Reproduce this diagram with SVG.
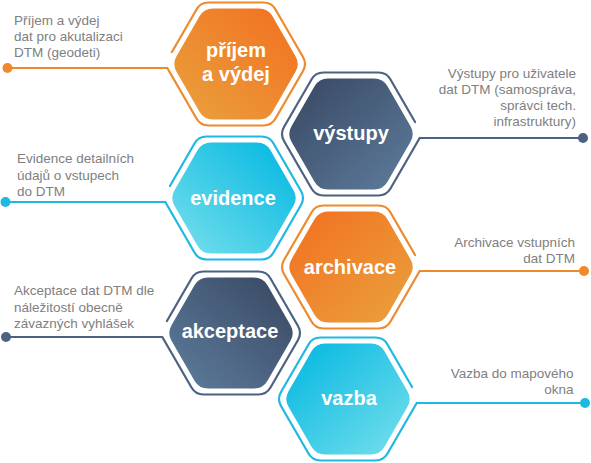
<svg xmlns="http://www.w3.org/2000/svg" xmlns:xlink="http://www.w3.org/1999/xlink" width="591" height="463" viewBox="0 0 591 463">
<style>
.desc{font-family:"Liberation Sans",Arial,sans-serif;font-size:13.5px;fill:#808080}
.r{text-anchor:end}
.lbl{font-family:"Liberation Sans",Arial,sans-serif;font-size:20px;font-weight:bold;fill:#ffffff;text-anchor:middle}
.out{fill:none;stroke-width:2.2;stroke-linejoin:round;stroke-linecap:round}
.con{fill:none;stroke-width:2}
.o{stroke:#EE8A2C}.n{stroke:#4C6280}.c{stroke:#1DB9E2}
</style>
<defs>
<linearGradient id="gO" x1="1" y1="0" x2="0" y2="1"><stop offset="0" stop-color="#F36F20"/><stop offset="1" stop-color="#E9A23D"/></linearGradient>
<linearGradient id="gN" x1="1" y1="0" x2="0" y2="1"><stop offset="0" stop-color="#374761"/><stop offset="1" stop-color="#5E7D9D"/></linearGradient>
<linearGradient id="gC" x1="1" y1="0" x2="0" y2="1"><stop offset="0" stop-color="#00B6E1"/><stop offset="1" stop-color="#78E0EC"/></linearGradient>
<path id="hexIn" d="M-23,-55.43 L23,-55.43 Q32,-55.43 36.5,-47.64 L59.5,-7.79 Q64,0 59.5,7.79 L36.5,47.64 Q32,55.43 23,55.43 L-23,55.43 Q-32,55.43 -36.5,47.64 L-59.5,7.79 Q-64,0 -59.5,-7.79 L-36.5,-47.64 Q-32,-55.43 -23,-55.43 Z"/>
<path id="hexOut" d="M-68.7,4 L-39.5,54.56 Q-35.5,61.49 -27.5,61.49 L27.5,61.49 Q35.5,61.49 39.5,54.56 L67,6.93 Q71,0 67,-6.93 L39.5,-54.56 Q35.5,-61.49 27.5,-61.49 L-27.5,-61.49 Q-35.5,-61.49 -39.5,-54.56 L-64.07,-12"/>
</defs>

<g id="connectors">
<line class="con o" x1="7.5" y1="68" x2="167.3" y2="68"/>
<circle cx="7.5" cy="68" r="5" fill="#EE8A2C"/>
<line class="con n" x1="419.7" y1="138" x2="583" y2="138"/>
<circle cx="583" cy="138" r="5" fill="#4C6280"/>
<line class="con c" x1="5.5" y1="202" x2="165.3" y2="202"/>
<circle cx="5.5" cy="202" r="5" fill="#1DB9E2"/>
<line class="con o" x1="419.7" y1="271" x2="584" y2="271"/>
<circle cx="584" cy="271" r="5" fill="#EE8A2C"/>
<line class="con n" x1="6" y1="337" x2="162.3" y2="337"/>
<circle cx="6" cy="337" r="5" fill="#4C6280"/>
<line class="con c" x1="416.7" y1="403" x2="585" y2="403"/>
<circle cx="585" cy="403" r="5" fill="#1DB9E2"/>
</g>

<g id="node-prijem">
<use xlink:href="#hexOut" class="out o" transform="translate(236,64)"/>
<use xlink:href="#hexIn" fill="url(#gO)" transform="translate(236,64)"/>
<text class="lbl" x="236" y="57">příjem</text>
<text class="lbl" x="236" y="81">a výdej</text>
<text class="desc" x="14" y="24.5">Příjem a výdej</text>
<text class="desc" x="14" y="40.8">dat pro akutalizaci</text>
<text class="desc" x="14" y="57">DTM (geodeti)</text>
</g>

<g id="node-vystupy">
<use xlink:href="#hexOut" class="out n" transform="translate(351,134) scale(-1,1)"/>
<use xlink:href="#hexIn" fill="url(#gN)" transform="translate(351,134) scale(-1,1)"/>
<text class="lbl" x="351" y="140">výstupy</text>
<text class="desc r" x="576" y="78.3">Výstupy pro uživatele</text>
<text class="desc r" x="576" y="94.3">dat DTM (samospráva,</text>
<text class="desc r" x="576" y="110">správci tech.</text>
<text class="desc r" x="576" y="125.7">infrastruktury)</text>
</g>

<g id="node-evidence">
<use xlink:href="#hexOut" class="out c" transform="translate(234,198)"/>
<use xlink:href="#hexIn" fill="url(#gC)" transform="translate(234,198)"/>
<text class="lbl" x="233" y="204.5">evidence</text>
<text class="desc" x="17" y="163.3">Evidence detailních</text>
<text class="desc" x="17" y="180">údajů o vstupech</text>
<text class="desc" x="17" y="196">do DTM</text>
</g>

<g id="node-archivace">
<use xlink:href="#hexOut" class="out o" transform="translate(351,267) scale(-1,1)"/>
<use xlink:href="#hexIn" fill="url(#gO)" transform="translate(351,267) scale(-1,1)"/>
<text class="lbl" x="350" y="273.5">archivace</text>
<text class="desc r" x="575" y="246.7">Archivace vstupních</text>
<text class="desc r" x="575" y="262.7">dat DTM</text>
</g>

<g id="node-akceptace">
<use xlink:href="#hexOut" class="out n" transform="translate(231,333)"/>
<use xlink:href="#hexIn" fill="url(#gN)" transform="translate(231,333)"/>
<text class="lbl" x="230" y="338">akceptace</text>
<text class="desc" x="14" y="295">Akceptace dat DTM dle</text>
<text class="desc" x="14" y="311.7">náležitostí obecně</text>
<text class="desc" x="14" y="327.7">závazných vyhlášek</text>
</g>

<g id="node-vazba">
<use xlink:href="#hexOut" class="out c" transform="translate(348,399) scale(-1,1)"/>
<use xlink:href="#hexIn" fill="url(#gC)" transform="translate(348,399) scale(-1,1)"/>
<text class="lbl" x="349" y="405">vazba</text>
<text class="desc r" x="573.5" y="378.3">Vazba do mapového</text>
<text class="desc r" x="573.5" y="394.3">okna</text>
</g>
</svg>
